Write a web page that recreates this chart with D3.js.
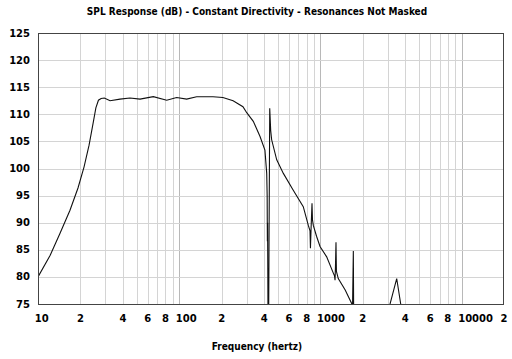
<!DOCTYPE html>
<html><head><meta charset="utf-8">
<script src="https://cdn.jsdelivr.net/npm/d3@7"></script>
<style>
body{margin:0;background:#fff;}
text{font-family:"DejaVu Sans",Verdana,sans-serif;font-weight:bold;fill:#000;}
</style></head>
<body><svg id="c" width="512" height="359"></svg>
<script>
const title = "SPL Response (dB) - Constant Directivity - Resonances Not Masked";
const xTitle = "Frequency (hertz)";
const freq = [10,12.2,14.3,16.85,19.2,21.2,23.0,24.5,25.7,26.8,28,29.5,32.4,38.1,44.8,52.8,65.6,81.6,96,113,133,173.6,204,241,283,301,335,374,405,417,420,421.5,423,428,438,445,452,491,547,643,757,822,845,851,860,873,880,892,940,995,1109,1236,1260,1271,1280,1291,1300,1340,1500,1667,1690,1713,1725,2000,3000,3116,3475,3710,4000,20000];
const spl  = [80,84,88,92.3,96.4,100.3,104.3,108.2,111.2,112.6,112.9,113,112.5,112.8,113,112.8,113.25,112.6,113.1,112.8,113.25,113.25,113.1,112.5,111.4,110.3,108.7,105.9,103.4,99.1,95,86.6,90,60,111.1,107,105.3,101.6,99.1,96,92.95,89.5,88.5,85.3,89,93.6,90.5,89.5,87.5,85.6,83.7,80.7,80.2,79.4,82,86.4,81,79.7,77.6,75.1,74,84.8,70,65,68,75,79.7,75,68,50];
const yTicks = [75,80,85,90,95,100,105,110,115,120,125];
const xTickVals = [10,20,40,60,80,100,200,400,600,800,1000,2000,4000,6000,8000,10000,20000];
const xTickLabels = ["10","2","4","6","8","100","2","4","6","8","1000","2","4","6","8","10000","2"];

const L=38,R=504,T=33,B=304;
const svg=d3.select("#c");
const x=d3.scaleLog().domain([10,20000]).range([L,R]);
const y=d3.scaleLinear().domain([75,125]).range([B,T]);

// grid
const gridX=[];
[10,100,1000,10000].forEach(d=>{for(let m=1;m<=9;m++){const v=d*m; if(v>10&&v<20000) gridX.push(v);}});
svg.append("g").selectAll("line").data(gridX).join("line")
 .attr("x1",d=>Math.round(x(d))+0.5).attr("x2",d=>Math.round(x(d))+0.5)
 .attr("y1",T).attr("y2",B)
 .attr("stroke",d=>[100,1000,10000].includes(d)?"#b8b8b8":"#d4d4d4").attr("stroke-width",1);
svg.append("g").selectAll("line").data(yTicks.slice(1,-1)).join("line")
 .attr("x1",L).attr("x2",R)
 .attr("y1",d=>Math.round(y(d))+0.5).attr("y2",d=>Math.round(y(d))+0.5)
 .attr("stroke","#d4d4d4").attr("stroke-width",1);

// curve
svg.append("clipPath").attr("id","clp").append("rect").attr("x",L).attr("y",T).attr("width",R-L).attr("height",B-T+0.5);
const pts=freq.map((f,i)=>[f,spl[i]]);
svg.append("path").datum(pts).attr("clip-path","url(#clp)")
 .attr("d",d3.line().x(d=>x(d[0])).y(d=>y(d[1])))
 .attr("fill","none").attr("stroke","#111").attr("stroke-width",1.1);

// frame
svg.append("rect").attr("x",L+0.5).attr("y",T+0.5).attr("width",R-L-1).attr("height",B-T)
 .attr("fill","none").attr("stroke","#444").attr("stroke-width",1);

// y labels
svg.append("g").selectAll("text").data(yTicks).join("text")
 .attr("x",30).attr("y",d=>y(d)+3.5).attr("text-anchor","end").attr("font-size",10).text(d=>d);

// x labels
svg.append("g").selectAll("text").data(xTickVals).join("text")
 .attr("x",(d,i)=>xTickLabels[i].length>1? x(d)-3.3 : x(d))
 .attr("y",322).attr("text-anchor",(d,i)=>xTickLabels[i].length>1?"start":"middle")
 .attr("font-size",10).text((d,i)=>xTickLabels[i]);

svg.append("text").attr("x",257).attr("y",14.5).attr("text-anchor","middle").attr("font-size",10)
 .style("font-family","'DejaVu Sans Condensed','DejaVu Sans',sans-serif").style("font-stretch","condensed").text(title);
svg.append("text").attr("x",257).attr("y",350).attr("text-anchor","middle").attr("font-size",10)
 .style("font-family","'DejaVu Sans Condensed','DejaVu Sans',sans-serif").style("font-stretch","condensed").text(xTitle);
</script></body></html>
